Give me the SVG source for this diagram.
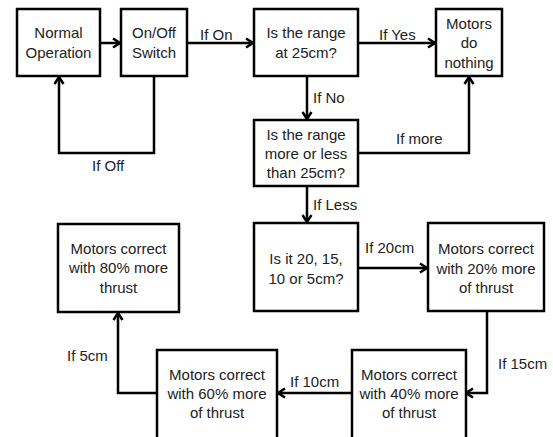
<svg xmlns="http://www.w3.org/2000/svg" width="553" height="437" viewBox="0 0 553 437">
<defs>
<style>
.box{fill:#fff;stroke:#000;stroke-width:2.5}
.t{font-family:"Liberation Sans",Arial,sans-serif;font-size:15px;fill:#222;text-anchor:middle}
.l{font-family:"Liberation Sans",Arial,sans-serif;font-size:15px;fill:#222}
.c{fill:none;stroke:#000;stroke-width:2.5}
</style>
<marker id="a" viewBox="0 0 12 12" refX="10" refY="6" markerWidth="12" markerHeight="12" markerUnits="userSpaceOnUse" orient="auto">
<polyline points="3,1.5 10,6 3,10.5" fill="none" stroke="#000" stroke-width="2.5"/>
</marker>
</defs>
<rect width="553" height="437" fill="#fff"/>
<g id="connectors">
<line class="c" x1="100" y1="43" x2="120" y2="43" marker-end="url(#a)"/>
<line class="c" x1="187" y1="43" x2="253" y2="43" marker-end="url(#a)"/>
<polyline class="c" points="154,76 154,153 59,153 59,77" marker-end="url(#a)"/>
<line class="c" x1="358" y1="43" x2="435" y2="43" marker-end="url(#a)"/>
<line class="c" x1="307" y1="76" x2="307" y2="119" marker-end="url(#a)"/>
<polyline class="c" points="358,153 469,153 469,77" marker-end="url(#a)"/>
<line class="c" x1="307" y1="186" x2="307" y2="222" marker-end="url(#a)"/>
<line class="c" x1="358" y1="268" x2="427" y2="268" marker-end="url(#a)"/>
<polyline class="c" points="487,311 487,393 466,393" marker-end="url(#a)"/>
<line class="c" x1="352" y1="393" x2="278" y2="393" marker-end="url(#a)"/>
<polyline class="c" points="157,393 118,393 118,313" marker-end="url(#a)"/>
<text class="l" x="200" y="40">If On</text>
<text class="l" x="379" y="40">If Yes</text>
<text class="l" x="313" y="103">If No</text>
<text class="l" x="396" y="144">If more</text>
<text class="l" x="92" y="171">If Off</text>
<text class="l" x="313" y="210">If Less</text>
<text class="l" x="365" y="253">If 20cm</text>
<text class="l" x="498" y="369">If 15cm</text>
<text class="l" x="290" y="387">If 10cm</text>
<text class="l" x="67" y="361">If 5cm</text>
</g>
<g id="normal"><rect class="box" x="17" y="9" width="83" height="67"/><text class="t" x="58.5" y="38">Normal</text><text class="t" x="58.5" y="58">Operation</text></g>
<g id="switch"><rect class="box" x="121" y="9" width="66" height="67"/><text class="t" x="154" y="38">On/Off</text><text class="t" x="154" y="58">Switch</text></g>
<g id="range25"><rect class="box" x="254" y="9" width="104" height="67"/><text class="t" x="306" y="38">Is the range</text><text class="t" x="306" y="58">at 25cm?</text></g>
<g id="nothing"><rect class="box" x="436" y="9" width="66" height="67"/><text class="t" x="469" y="29">Motors</text><text class="t" x="469" y="48">do</text><text class="t" x="469" y="68">nothing</text></g>
<g id="moreless"><rect class="box" x="254" y="120" width="104" height="66"/><text class="t" x="306" y="140">Is the range</text><text class="t" x="306" y="159">more or less</text><text class="t" x="306" y="178">than 25cm?</text></g>
<g id="which"><rect class="box" x="254" y="223" width="104" height="88"/><text class="t" x="306" y="264">Is it 20, 15,</text><text class="t" x="306" y="284">10 or 5cm?</text></g>
<g id="m20"><rect class="box" x="428" y="223" width="116" height="88"/><text class="t" x="486" y="254">Motors correct</text><text class="t" x="486" y="274">with 20% more</text><text class="t" x="486" y="293">of thrust</text></g>
<g id="m40"><rect class="box" x="352" y="350" width="114" height="90"/><text class="t" x="409" y="380">Motors correct</text><text class="t" x="409" y="399">with 40% more</text><text class="t" x="409" y="418">of thrust</text></g>
<g id="m60"><rect class="box" x="157" y="350" width="120" height="90"/><text class="t" x="217" y="380">Motors correct</text><text class="t" x="217" y="399">with 60% more</text><text class="t" x="217" y="418">of thrust</text></g>
<g id="m80"><rect class="box" x="58" y="224" width="121" height="88"/><text class="t" x="118.5" y="254">Motors correct</text><text class="t" x="118.5" y="273">with 80% more</text><text class="t" x="118.5" y="293">thrust</text></g>
</svg>
